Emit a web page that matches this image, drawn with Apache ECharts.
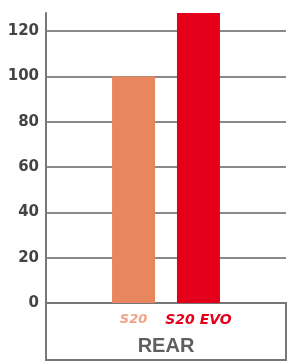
<!DOCTYPE html>
<html>
<head>
<meta charset="utf-8">
<script src="https://cdn.jsdelivr.net/npm/echarts@6/dist/echarts.min.js"></script>
<style>
  html, body { margin: 0; padding: 0; background: #fff; }
  #chart { width: 294px; height: 364px; }
</style>
</head>
<body>
<div id="chart"></div>
<script>
// 数据
var categories = ['REAR'];
var seriesNames = ['S20', 'S20 EVO'];
var s20Values = [100];
var s20EvoValues = [128];

(function() {
    var myChart = echarts.init(document.getElementById('chart'));
    var option = {
        animation: false,
        grid: { left: 46, right: 8, top: 13, bottom: 61 },
        xAxis: {
            type: 'category',
            data: categories,
            axisLine: { lineStyle: { color: '#777', width: 2 } },
            axisTick: { show: false },
            axisLabel: {
                margin: 33,
                color: '#5f5f5f',
                fontFamily: 'Liberation Sans',
                fontWeight: 700,
                fontSize: 20
            }
        },
        yAxis: {
            type: 'value',
            min: 0,
            max: 128,
            interval: 20,
            axisLine: { show: true, lineStyle: { color: '#777', width: 2 } },
            axisTick: { show: false },
            axisLabel: {
                margin: 7,
                showMaxLabel: false,
                color: '#444',
                fontFamily: 'DejaVu Sans',
                fontWeight: 700,
                fontSize: 15
            },
            splitLine: { showMaxLine: false, lineStyle: { color: '#8a8a8a', width: 2 } }
        },
        series: [{
            name: seriesNames[0],
            type: 'bar',
            data: s20Values,
            barWidth: 43,
            barGap: '51%',
            itemStyle: { color: '#e8875f' },
            label: {
                show: true,
                position: 'bottom',
                distance: 10,
                formatter: '{a}',
                color: '#f0a383',
                fontFamily: 'DejaVu Sans',
                fontStyle: 'italic',
                fontWeight: 700,
                fontSize: 13
            }
        }, {
            name: seriesNames[1],
            type: 'bar',
            data: s20EvoValues,
            barWidth: 43,
            itemStyle: { color: '#e4001b' },
            label: {
                show: true,
                position: 'bottom',
                distance: 10,
                formatter: '{a}',
                color: '#e4001b',
                fontFamily: 'DejaVu Sans',
                fontStyle: 'italic',
                fontWeight: 700,
                fontSize: 14
            }
        }],
        // 下方的框
        graphic: [{
            type: 'rect',
            shape: { x: 46, y: 303, width: 240, height: 57 },
            style: { fill: 'none', stroke: '#777', lineWidth: 2 },
            z: -1
        }]
    };
    myChart.setOption(option);
})();
</script>
</body>
</html>
